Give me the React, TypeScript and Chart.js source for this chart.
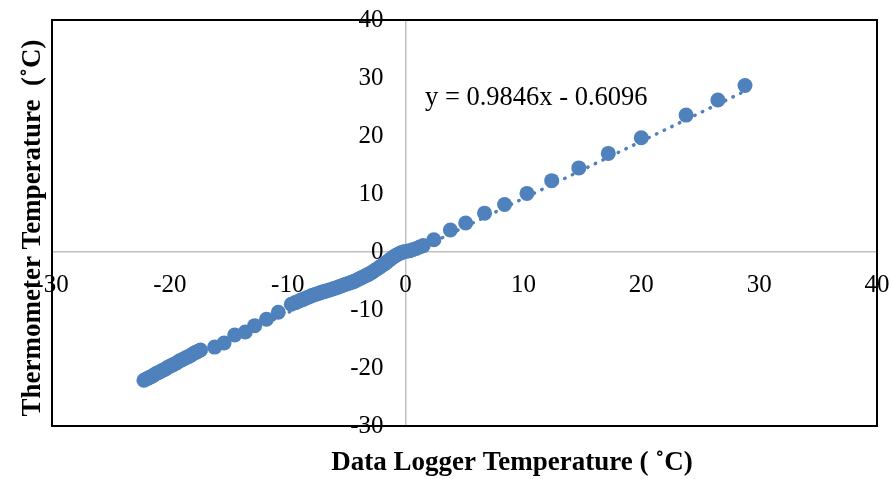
import React, { useEffect, useRef } from "react";
import { Chart, registerables } from "chart.js";

Chart.register(...registerables);

// Data Logger temperature (x) and Thermometer temperature (y)
const loggerTemps: number[] = [
  -22.2, -22.0, -21.8, -21.6, -21.4, -21.2, -21.0, -20.8, -20.6, -20.4, -20.2, -20.0, -19.8,
  -19.6, -19.4, -19.2, -19.0, -18.8, -18.6, -18.4, -18.2, -18.0, -17.8, -17.6, -17.4,
  -16.2, -15.4, -14.5, -13.6, -12.8, -11.8, -10.8, -9.7,
  -9.4, -9.2, -9.0, -8.8, -8.6, -8.4, -8.2, -8.0, -7.8, -7.6, -7.4, -7.2, -7.0, -6.8, -6.6,
  -6.4, -6.2, -6.0, -5.8, -5.6, -5.4, -5.2, -5.0, -4.8, -4.6, -4.4, -4.2, -4.0, -3.8, -3.6,
  -3.4, -3.2, -3.0, -2.8, -2.6, -2.4, -2.2, -2.0, -1.8, -1.6, -1.4, -1.2, -1.0, -0.8, -0.6,
  -0.4, -0.2, 0.0,
  0.3, 0.6, 0.9, 1.2, 1.5,
  2.4, 3.8, 5.1, 6.7, 8.4, 10.3, 12.4, 14.7, 17.2, 20.0, 23.8, 26.5, 28.8,
];
const thermometerTemps: number[] = [
  -22.1, -21.9, -21.7, -21.5, -21.3, -21.0, -20.8, -20.6, -20.4, -20.2, -19.9, -19.7, -19.5,
  -19.3, -19.1, -18.8, -18.6, -18.4, -18.2, -18.0, -17.8, -17.5, -17.3, -17.1, -16.9,
  -16.4, -15.7, -14.3, -13.8, -12.7, -11.6, -10.4, -9.0,
  -8.75, -8.6, -8.4, -8.25, -8.1, -7.9, -7.75, -7.55, -7.4, -7.27, -7.14, -7.0, -6.87, -6.75, -6.62,
  -6.5, -6.37, -6.23, -6.1, -5.95, -5.8, -5.65, -5.5, -5.37, -5.23, -5.1, -4.9, -4.7, -4.5, -4.3,
  -4.1, -3.9, -3.7, -3.43, -3.15, -2.88, -2.6, -2.33, -2.05, -1.74, -1.43, -1.12, -0.8, -0.55, -0.35,
  -0.15, 0.0, 0.1,
  0.2, 0.4, 0.6, 0.85, 1.1,
  2.1, 3.8, 5.0, 6.7, 8.2, 10.1, 12.3, 14.5, 17.0, 19.7, 23.6, 26.2, 28.7,
];

// Linear trendline shown on the chart
const TREND_SLOPE = 0.9846;
const TREND_INTERCEPT = -0.6096;
const equationLabel = `y = ${TREND_SLOPE}x - ${Math.abs(TREND_INTERCEPT)}`;

const xTitle = "Data Logger Temperature ( \u02DAC)";
const yTitle = "Thermometer Temperature  (\u02DAC)";

const AXIS_MIN = -30;
const AXIS_MAX = 40;
const AXIS_STEP = 10;

const SERIF = "'Times New Roman', 'Liberation Serif', serif";
const BLUE = "#4F81BD";
const ZERO_LINE = "#bfbfbf";

export default function App() {
  const canvasRef = useRef<HTMLCanvasElement | null>(null);

  useEffect(() => {
    const canvas = canvasRef.current;
    if (!canvas) return;

    const points = loggerTemps.map((x, i) => ({ x, y: thermometerTemps[i] }));
    const xMin = Math.min(...loggerTemps);
    const xMax = Math.max(...loggerTemps);
    const trend = [
      { x: xMin, y: TREND_SLOPE * xMin + TREND_INTERCEPT },
      { x: xMax, y: TREND_SLOPE * xMax + TREND_INTERCEPT },
    ];

    const decorPlugin = {
      id: "decor",
      afterDraw(chart: any) {
        const { ctx, chartArea } = chart;
        ctx.save();
        ctx.strokeStyle = "#000";
        ctx.lineWidth = 2;
        ctx.strokeRect(
          chartArea.left,
          chartArea.top,
          chartArea.right - chartArea.left,
          chartArea.bottom - chartArea.top
        );
        ctx.fillStyle = "#000";
        ctx.textBaseline = "middle";
        // trendline equation
        ctx.font = `26.5px ${SERIF}`;
        ctx.textAlign = "left";
        ctx.fillText(equationLabel, 425, 98);
        // x title
        ctx.font = `bold 27px ${SERIF}`;
        ctx.textAlign = "center";
        ctx.fillText(xTitle, 512, 463);
        // y title
        ctx.translate(33, 228);
        ctx.rotate(-Math.PI / 2);
        ctx.fillText(yTitle, 0, 0);
        ctx.restore();
      },
    };

    const tickFont = { family: SERIF, size: 25 };
    const zeroOnly = (c: any) =>
      c.tick && c.tick.value === 0 ? ZERO_LINE : "rgba(0,0,0,0)";

    const chart = new Chart(canvas, {
      type: "scatter",
      data: {
        datasets: [
          {
            label: "Measurements",
            data: points,
            backgroundColor: BLUE,
            borderColor: BLUE,
            borderWidth: 0,
            pointRadius: 7.5,
            pointHoverRadius: 7.5,
          },
          {
            label: "Linear trend",
            data: trend,
            showLine: true,
            borderColor: BLUE,
            borderWidth: 3.5,
            borderDash: [0.5, 8],
            borderCapStyle: "round",
            pointRadius: 0,
            fill: false,
          } as any,
        ],
      },
      options: {
        animation: false,
        responsive: false,
        devicePixelRatio: 1,
        layout: { padding: { left: 52, top: 20, right: 17, bottom: 53 } },
        plugins: {
          legend: { display: false },
          tooltip: { enabled: false },
        },
        scales: {
          x: {
            type: "linear",
            min: AXIS_MIN,
            max: AXIS_MAX,
            position: { y: -3.25 } as any,
            ticks: {
              stepSize: AXIS_STEP,
              color: "#000",
              font: tickFont,
              padding: 0,
              maxRotation: 0,
              autoSkip: false,
            },
            grid: { drawTicks: false, lineWidth: 1.5, color: zeroOnly },
            border: { display: false },
          },
          y: {
            type: "linear",
            min: AXIS_MIN,
            max: AXIS_MAX,
            position: { x: -1.87 } as any,
            ticks: {
              stepSize: AXIS_STEP,
              color: "#000",
              font: tickFont,
              padding: 0,
              autoSkip: false,
            },
            grid: { drawTicks: false, lineWidth: 1.5, color: zeroOnly },
            border: { display: false },
          },
        },
      },
      plugins: [decorPlugin],
    });

    return () => chart.destroy();
  }, []);

  return (
    <div style={{ position: "absolute", left: 0, top: 0, width: 894, height: 479, background: "#fff" }}>
      <canvas ref={canvasRef} width={894} height={479} />
    </div>
  );
}
